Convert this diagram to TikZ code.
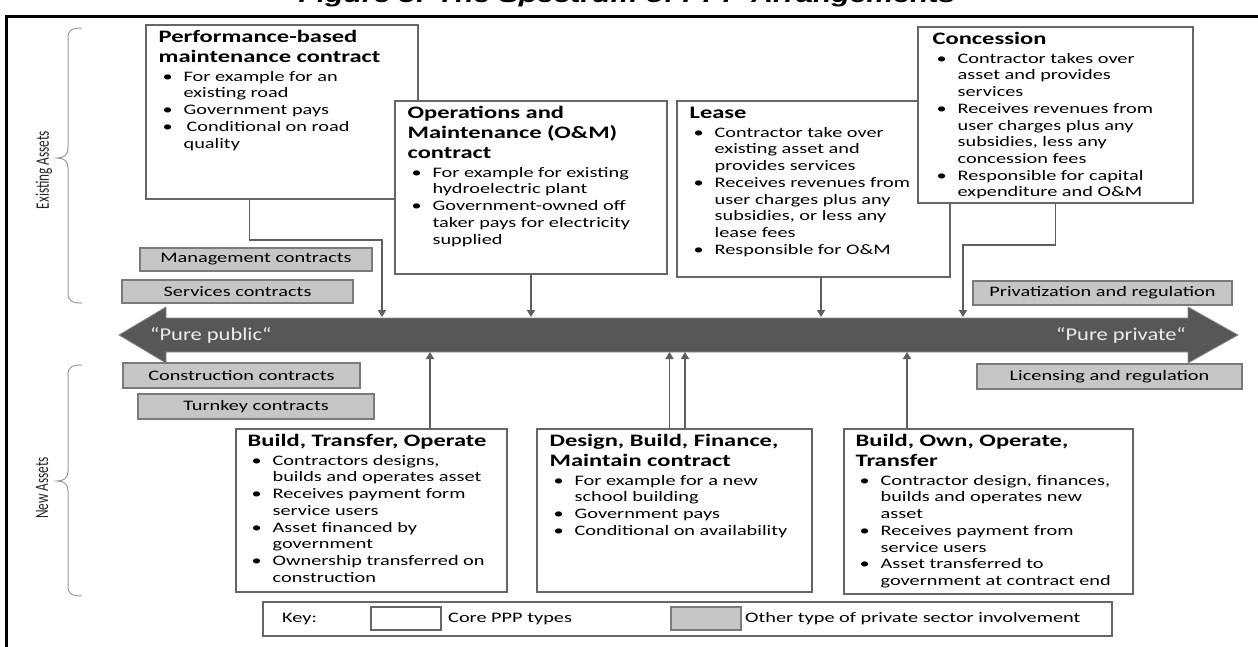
\documentclass[tikz,border=0pt]{standalone}
\usepackage{fontspec}
\usepackage{array}
\setmainfont{Carlito}[FakeStretch=1.4]
\newfontfamily\arrowfont{Carlito}[FakeStretch=1.25]
\newfontfamily\rotfont{Carlito}[FakeStretch=0.7]
\newfontfamily\figtitlefont{Liberation Sans}[FakeStretch=1.4]
\usetikzlibrary{arrows.meta,calc}
\definecolor{boxgray}{HTML}{666666}
\definecolor{gborder}{HTML}{7A7A7A}
\definecolor{grayfill}{HTML}{C6C6C6}
\definecolor{conncol}{HTML}{5E5E5E}
\definecolor{barfill}{HTML}{575757}
\definecolor{baredge}{HTML}{8A8A8A}
\definecolor{bracecol}{HTML}{9A9A9A}
\newcommand{\bodysize}{\fontsize{14.5}{16.7}\selectfont}
\newcommand{\ttlsize}{\fontsize{17.5}{20}\selectfont\bfseries}
\newcommand{\TL}[1]{\multicolumn{2}{@{}l@{}}{\ttlsize\rule[-6.9pt]{0pt}{20pt}\smash{#1}}}
\newcommand{\BL}{\hspace*{4pt}•}
\newenvironment{boxlist}{\begin{tabular}{@{}p{25pt}@{}l@{}}}{\end{tabular}}
\begin{document}
\begin{tikzpicture}[x=1pt,y=-1pt,
  wbox/.style={draw=boxgray, fill=white, line width=1.1pt, inner sep=0pt},
  gbox/.style={draw=gborder, fill=grayfill, line width=1.1pt, inner sep=0pt, font=\bodysize},
  txt/.style={inner sep=0pt, anchor=north west, font=\bodysize},
  plain/.style={inner sep=0pt, font=\bodysize},
  conn/.style={draw=conncol, line width=1.8pt, -{Triangle[width=8pt,length=7pt]}},
  bracestyle/.style={draw=bracecol, line width=1pt},
  side/.style={inner sep=0pt, font=\rotfont\fontsize{19}{20}\selectfont, rotate=90, text=black!85},
  pure/.style={inner sep=0pt, font=\arrowfont\fontsize{18}{20}\selectfont, text=white!93!black}
]
\useasboundingbox (0,0) rectangle (1258,647);

% figure title (cut off at the top edge, as in the source) and frame
\node[anchor=base, inner sep=0pt, font=\figtitlefont\bfseries\itshape\fontsize{21.5}{24}\selectfont] (figtitle) at (627,3) {Figure 3: The Spectrum of PPP Arrangements};
\draw[line width=3pt] (5,16.5) -- (1258,16.5);
\draw[line width=2.5pt] (6.5,15) -- (6.5,647);

% braces
\draw[bracestyle] (82,28) .. controls (72,28) and (68,30) .. (68,38) -- (68,148)
  .. controls (68,155) and (64,158) .. (57,158) .. controls (64,158) and (68,161) .. (68,168)
  -- (68,293) .. controls (68,301) and (72,303) .. (82,303);
\draw[bracestyle] (82,365) .. controls (72,365) and (68,367) .. (68,375) -- (68,471)
  .. controls (68,478) and (64,481) .. (57,481) .. controls (64,481) and (68,484) .. (68,491)
  -- (68,586) .. controls (68,594) and (72,596) .. (82,596);
\node[side] (existing) at (44,170) {Existing Assets};
\node[side] (newassets) at (42,488) {New Assets};

% big double arrow
\coordinate (bartop) at (0,317);
\coordinate (barbot) at (0,352);
\draw[draw=baredge, fill=barfill, line width=0.8pt] (119,335) -- (166,307) -- (166,318) -- (1188,318)
  -- (1188,307) -- (1238,335) -- (1188,363) -- (1188,352) -- (166,352) -- (166,363) -- cycle;
\node[pure, anchor=west] (pubtxt) at (150,335) {“Pure public“};
\node[pure, anchor=east] (privtxt) at (1186,335) {“Pure private“};

% gray boxes
\node[gbox, minimum width=232, minimum height=23] (mgmt) at (256,259.5) {Management contracts};
\node[gbox, minimum width=231, minimum height=23] (serv) at (237.5,291.5) {Services contracts};
\node[gbox, minimum width=259, minimum height=24] (priv) at (1102.5,293) {Privatization and regulation};
\node[gbox, minimum width=237, minimum height=25] (constr) at (241.5,375.5) {Construction contracts};
\node[gbox, minimum width=236, minimum height=25] (turnkey) at (256,406.5) {Turnkey contracts};
\node[gbox, minimum width=265, minimum height=25] (lic) at (1109.5,376.5) {Licensing and regulation};

% existing-asset boxes
\node[wbox, minimum width=272, minimum height=174] (perf) at (282,112) {};
\node[txt] (perfT) at ($(perf.north west)+(13,4.9)$) {\begin{boxlist}
\TL{Performance-based}\\
\TL{maintenance contract}\\
\BL & For example for an\\
 & existing road\\
\BL & Government pays\\
\BL & \hspace*{3pt}Conditional on road\\
 & quality
\end{boxlist}};

\node[wbox, minimum width=272, minimum height=173] (om) at (531,187.5) {};
\node[txt] (omT) at ($(om.north west)+(13,4.9)$) {\begin{boxlist}
\TL{Operations and}\\
\TL{Maintenance (O\&M)}\\
\TL{contract}\\
\BL & For example for existing\\
 & hydroelectric plant\\
\BL & Government-owned off\\
 & taker pays for electricity\\
 & supplied
\end{boxlist}};

\node[wbox, minimum width=273, minimum height=176] (lease) at (813.5,189) {};
\node[txt] (leaseT) at ($(lease.north west)+(13,4.9)$) {\begin{boxlist}
\TL{Lease}\\
\BL & Contractor take over\\
 & existing asset and\\
 & provides services\\
\BL & Receives revenues from\\
 & user charges plus any\\
 & subsidies, or less any\\
 & lease fees\\
\BL & Responsible for O\&M
\end{boxlist}};

\node[wbox, minimum width=275, minimum height=176] (conc) at (1055.5,115) {};
\node[txt] (concT) at ($(conc.north west)+(15,4.9)$) {\begin{boxlist}
\TL{Concession}\\
\BL & Contractor takes over\\
 & asset and provides\\
 & services\\
\BL & Receives revenues from\\
 & user charges plus any\\
 & subsidies, less any\\
 & concession fees\\
\BL & Responsible for capital\\
 & expenditure and O\&M
\end{boxlist}};

% new-asset boxes
\node[wbox, minimum width=271, minimum height=163] (bto) at (371.5,510.5) {};
\node[txt] (btoT) at ($(bto.north west)+(12,4.9)$) {\begin{boxlist}
\TL{Build, Transfer, Operate}\\
\BL & Contractors designs,\\
 & builds and operates asset\\
\BL & Receives payment form\\
 & service users\\
\BL & Asset financed by\\
 & government\\
\BL & Ownership transferred on\\
 & construction
\end{boxlist}};

\node[wbox, minimum width=275, minimum height=163] (dbfm) at (674.5,510.5) {};
\node[txt] (dbfmT) at ($(dbfm.north west)+(13,4.9)$) {\begin{boxlist}
\TL{Design, Build, Finance,}\\
\TL{Maintain contract}\\
\BL & For example for a new\\
 & school building\\
\BL & Government pays\\
\BL & Conditional on availability
\end{boxlist}};

\node[wbox, minimum width=289, minimum height=165] (boot) at (988.5,511.5) {};
\node[txt] (bootT) at ($(boot.north west)+(12,4.9)$) {\begin{boxlist}
\TL{Build, Own, Operate,}\\
\TL{Transfer}\\
\BL & Contractor design, finances,\\
 & builds and operates new\\
 & asset\\
\BL & Receives payment from\\
 & service users\\
\BL & Asset transferred to\\
 & government at contract end
\end{boxlist}};

% connectors
\coordinate (land1) at (382,317);
\coordinate (land4) at (963,317);
\draw[conn] ($(perf.south west)+(104,0)$) |- ($(land1)+(0,-77)$) -- (land1);
\draw[conn] (om.south) -- (om.south |- bartop);
\draw[conn] ($(lease.south)+(7.5,0)$) -- ($(lease.south |- bartop)+(7.5,0)$);
\draw[conn] (conc.south) |- ($(land4)+(0,-72)$) -- (land4);
\draw[conn] ($(bto.north)+(58.5,0)$) -- ($(bto.north |- barbot)+(58.5,0)$);
\draw[conn] ($(dbfm.north)+(-5,0)$) -- ($(dbfm.north |- barbot)+(-5,0)$);
\draw[conn] ($(dbfm.north)+(10.5,0)$) -- ($(dbfm.north |- barbot)+(10.5,0)$);
\draw[conn] ($(boot.north)+(-81.5,0)$) -- ($(boot.north |- barbot)+(-81.5,0)$);

% key
\node[wbox, minimum width=849, minimum height=34] (key) at (687.5,619) {};
\node[plain, anchor=west] (keyL) at (282,619) {Key:};
\node[wbox, minimum width=70, minimum height=23] (kwhite) at (406,618.5) {};
\node[plain, anchor=west] (kwhiteL) at (448,619) {Core PPP types};
\node[gbox, minimum width=70, minimum height=23] (kgray) at (706,618.5) {};
\node[plain, anchor=west] (kgrayL) at (745,619) {Other type of private sector involvement};
\end{tikzpicture}
\end{document}
